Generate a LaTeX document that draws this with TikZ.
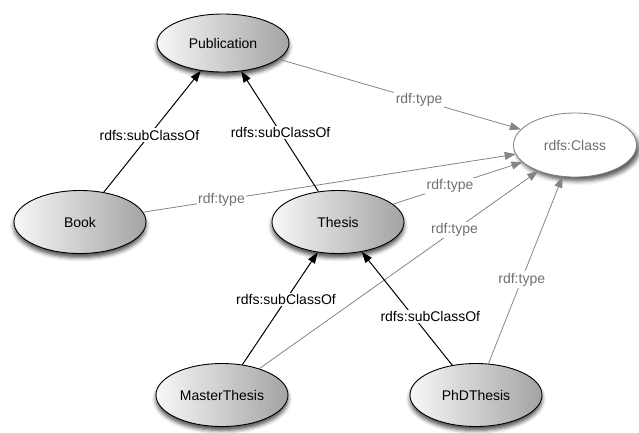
\documentclass[tikz,border=0pt]{standalone}
\usepackage{fontspec}
\setmainfont{Liberation Sans}
\usetikzlibrary{arrows.meta,shapes.geometric,shadows.blur}
\definecolor{typeline}{HTML}{858585}
\definecolor{typetext}{HTML}{707070}
\begin{document}
\begin{tikzpicture}[x=1pt,y=-1pt,
  font=\fontsize{14}{16}\selectfont,
  cls/.style={ellipse, draw=black, line width=0.9pt, minimum width=132pt,
    minimum height=63pt, inner sep=0pt, left color=black!3, right color=black!36,
    blur shadow={shadow xshift=0pt, shadow yshift=-4pt, shadow blur radius=4pt,
      shadow opacity=70}},
  metacls/.style={ellipse, draw=black!50, line width=0.8pt, fill=white,
    text=typetext, minimum width=123pt, minimum height=64pt, inner sep=0pt,
    blur shadow={shadow xshift=3pt, shadow yshift=-4pt, shadow blur radius=4pt,
      shadow opacity=65}},
  subarrow/.style={draw=black, line width=1pt, -{Triangle[length=11pt,width=8pt]}},
  typearrow/.style={draw=typeline, line width=0.8pt, -{Triangle[length=11pt,width=8pt]}},
  sublabel/.style={fill=white, inner sep=1.5pt, text=black},
  typelabel/.style={fill=white, inner sep=1.5pt, text=typetext},
]
\useasboundingbox (0,0) rectangle (639,432);

% classes
\node[cls] (pub) at (223,43) [minimum height=58pt] {Publication};
\node[metacls] (rdfsclass) at (575,145) {rdfs:Class};
\node[cls] (book) at (80,222) {Book};
\node[cls] (thesis) at (338,222) {Thesis};
\node[cls] (master) at (222,395) {MasterThesis};
\node[cls] (phd) at (476,395) {PhDThesis};

% rdf:type links
\draw[typearrow] (pub) -- node[typelabel, pos=0.58] {rdf:type} (rdfsclass);
\draw[typearrow] (book) -- node[typelabel, pos=0.21] {rdf:type} (rdfsclass);
\draw[typearrow] (thesis) -- node[typelabel, pos=0.44] {rdf:type} (rdfsclass);
\draw[typearrow] (master) -- node[typelabel, pos=0.70] {rdf:type} (rdfsclass);
\draw[typearrow] (phd) -- node[typelabel, pos=0.45] {rdf:type} (rdfsclass);

% rdfs:subClassOf links
\draw[subarrow] (book) -- node[sublabel, pos=0.47] {rdfs:subClassOf} (pub);
\draw[subarrow] (thesis) -- node[sublabel, pos=0.49] {rdfs:subClassOf} (pub);
\draw[subarrow] (master) -- node[sublabel, pos=0.58] {rdfs:subClassOf} (thesis);
\draw[subarrow] (phd) -- node[sublabel, pos=0.43, xshift=17pt] {rdfs:subClassOf} (thesis);
\end{tikzpicture}
\end{document}
